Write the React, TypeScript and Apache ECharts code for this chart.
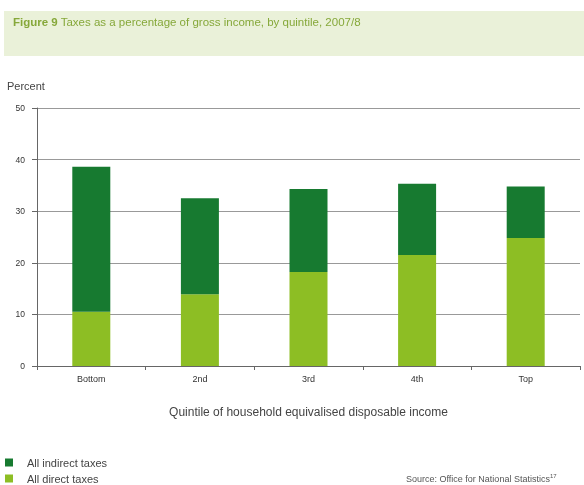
import React, { useEffect, useRef } from "react";
import * as echarts from "echarts";

const categories = ["Bottom", "2nd", "3rd", "4th", "Top"];
const directTaxes = [10.5, 13.9, 18.2, 21.5, 24.8];
const indirectTaxes = [28.1, 18.6, 16.1, 13.8, 10.0];
const yTicks = [0, 10, 20, 30, 40, 50];

const FONT = "'Liberation Sans', Arial, sans-serif";

export default function App() {
  const ref = useRef<HTMLDivElement>(null);
  useEffect(() => {
    if (!ref.current) return;
    const chart = echarts.init(ref.current, undefined, { renderer: "svg" });
    const legendText = { fontSize: 11, color: "#444", fontFamily: FONT };
    chart.setOption({
      animation: false,
      textStyle: { fontFamily: FONT },
      graphic: [
        {
          type: "rect",
          shape: { x: 4, y: 11, width: 580, height: 45 },
          style: { fill: "#eaf1d9" },
          silent: true,
        },
        {
          type: "text",
          x: 13,
          y: 16,
          style: {
            text: "{b|Figure 9} Taxes as a percentage of gross income, by quintile, 2007/8",
            fontSize: 11.5,
            fill: "#86a83a",
            fontFamily: FONT,
            rich: { b: { fontWeight: "bold", fontSize: 11.5, fill: "#86a83a", fontFamily: FONT } },
          },
        },
        {
          type: "text",
          x: 7,
          y: 80,
          style: { text: "Percent", fontSize: 11, fill: "#444", fontFamily: FONT },
        },
        {
          type: "text",
          x: 406,
          y: 473,
          style: {
            text: "Source: Office for National Statistics{s|17}",
            fontSize: 9,
            fill: "#555",
            fontFamily: FONT,
            rich: { s: { fontSize: 6, verticalAlign: "top", padding: [0, 0, 5, 0], fill: "#555" } },
          },
        },
      ],
      legend: [
        {
          left: 1,
          top: 455,
          padding: [2, 4],
          itemWidth: 8,
          itemHeight: 8,
          itemGap: 4,
          icon: "rect",
          data: ["All indirect taxes"],
          textStyle: { ...legendText, padding: [0, 0, 0, 9] },
        },
        {
          left: 1,
          top: 471,
          padding: [2, 4],
          itemWidth: 8,
          itemHeight: 8,
          itemGap: 4,
          icon: "rect",
          data: ["All direct taxes"],
          textStyle: { ...legendText, padding: [0, 0, 0, 9] },
        },
      ],
      grid: { left: 37, right: 4, top: 108, bottom: 119, containLabel: false },
      xAxis: {
        type: "category",
        data: categories,
        boundaryGap: true,
        name: "Quintile of household equivalised disposable income",
        nameLocation: "middle",
        nameGap: 40,
        nameTextStyle: { fontSize: 12, color: "#444", fontFamily: FONT },
        axisLine: { lineStyle: { color: "#666", width: 1 } },
        axisTick: { show: true, length: 4, lineStyle: { color: "#666" } },
        axisLabel: { fontSize: 9, color: "#333", margin: 8 },
      },
      yAxis: {
        type: "value",
        min: yTicks[0],
        max: yTicks[yTicks.length - 1],
        interval: 10,
        axisLine: { show: true, lineStyle: { color: "#666" } },
        axisTick: { show: true, length: 5, lineStyle: { color: "#666" } },
        axisLabel: { fontSize: 8.5, color: "#333", margin: 12 },
        splitLine: { lineStyle: { color: "#999", width: 1 } },
      },
      series: [
        {
          name: "All direct taxes",
          type: "bar",
          stack: "t",
          data: directTaxes,
          barWidth: 38,
          itemStyle: { color: "#8dbe24" },
        },
        {
          name: "All indirect taxes",
          type: "bar",
          stack: "t",
          data: indirectTaxes,
          barWidth: 38,
          itemStyle: { color: "#177a30" },
        },
      ],
    });
    return () => chart.dispose();
  }, []);
  return (
    <div
      ref={ref}
      style={{ position: "fixed", left: 0, top: 0, width: 584, height: 485 }}
    />
  );
}
